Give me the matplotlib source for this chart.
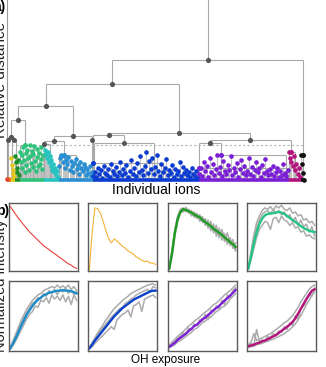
import numpy as np
import matplotlib
matplotlib.use("Agg")
import matplotlib.pyplot as plt

plt.rcParams['font.family'] = ['Liberation Sans', 'DejaVu Sans']

W, H = 326, 367

# ---------------- (a) dendrogram data ----------------
cluster_names = ['red', 'orange', 'yellow', 'dkgreen', 'green', 'teal',
                 'ltblue', 'blue', 'purple', 'magenta', 'black']
cluster_sizes = [2, 2, 4, 5, 24, 15, 34, 106, 90, 12, 4]
cluster_colors = ['#e8412f', '#f07a1a', '#e2c81e', '#1f8f2a', '#2fc27a', '#27c3c0',
                  '#2a8fd2', '#0b3ccf', '#7a1fd6', '#b3137d', '#111111']

# heights of the leaf-level nodes of every cluster (relative distance units)
red_h = [1]
orange_h = [1]
yellow_h = [22, 15, 10, 6, 3]
dkgreen_h = [24, 18, 12, 8, 20, 5]
green_h = [28, 18, 25, 12, 33, 20, 8, 27, 15, 30, 22, 10, 35, 24, 17, 29, 13, 26,
           34, 19, 9, 31, 23, 14, 27, 16, 33, 21, 11, 25]
teal_h = [36, 30, 26, 22, 28, 18, 24, 14, 20, 10, 16, 8, 12, 5, 9, 3]
ltblue_h = [14, 22, 25, 18, 24, 12, 20, 16, 23, 10, 19, 14, 8, 17, 21, 11, 15, 6,
            18, 12, 9, 16, 13, 5, 11, 7, 14, 4, 8]
blue_h = [4, 8, 3, 12, 6, 10, 2, 14, 7, 5, 11, 3, 16, 9, 6, 13, 4, 8, 18, 5, 11, 7,
          15, 3, 9, 20, 6, 12, 4, 17, 8, 24, 10, 5, 14, 28, 7, 19, 11, 22, 6, 13, 25,
          9, 4, 16, 8, 12, 21, 5, 10, 7, 15, 3, 11, 6, 9, 18, 4, 13, 7, 10, 5, 8, 3,
          12, 6, 4, 9, 2]
purple_h = [6, 12, 4, 18, 9, 14, 3, 22, 8, 16, 5, 11, 25, 7, 13, 4, 19, 9, 6, 15, 10,
            24, 5, 12, 8, 17, 3, 11, 20, 7, 14, 5, 9, 22, 6, 13, 4, 10, 18, 8, 12, 3,
            15, 7, 21, 9, 5, 11, 6, 14, 4, 8, 12, 3, 9, 5, 16, 7, 4, 10]
magenta_h = [28, 22, 18, 14, 24, 10, 16, 6, 12, 3]
black_h = [25, 16, 7, 0.5]
cluster_heights = [red_h, orange_h, yellow_h, dkgreen_h, green_h, teal_h,
                   ltblue_h, blue_h, purple_h, magenta_h, black_h]

# cluster top nodes: cluster, leaf offset, height, bar extent left/right
anchors = {
    'a_red': ('red', 1.5, 40, 0, 0),
    'a_yel': ('yellow', 3.5, 40, 2, 2),
    'a_grn': ('green', 5.5, 35, 5, 8),
    'a_teal': ('teal', 0.5, 36, 0, 6),
    'a_lb': ('ltblue', 5.5, 25, 5, 12),
    'a_lb2': ('ltblue', 33.5, 40, 0, 0),
    'a_bl1': ('blue', 0.5, 17, 0, 70),
    'a_bl2': ('blue', 31.5, 37, 30, 30),
    'a_pu1': ('purple', 0.5, 12, 0, 88),
    'a_pu2': ('purple', 22.2, 25, 0, 65),
    'a_mag': ('magenta', 2.2, 28, 2, 4),
    'a_blk': ('black', 2.2, 25, 0, 0),
}
# merges: name, left, right, height
merges = [
    ('F', 'a_red', 'a_yel', 43),
    ('D', 'F', 'a_grn', 60),
    ('E1', 'a_teal', 'a_lb', 39),
    ('E', 'E1', 'a_lb2', 44),
    ('B', 'D', 'E', 74),
    ('C1', 'a_bl1', 'a_bl2', 45),
    ('C2a', 'a_pu1', 'a_pu2', 37),
    ('C2', 'C2a', 'a_mag', 40),
    ('C', 'C1', 'C2', 47),
    ('A', 'B', 'C', 96),
    ('R', 'A', 'a_blk', 120),
]
cut_height = 35.5

# ---------------- (b) intensity profiles ----------------
x = np.linspace(0, 1, 25)
red_mean = [0.94, 0.88, 0.82, 0.76, 0.71, 0.66, 0.61, 0.56, 0.52, 0.48, 0.44, 0.40, 0.36,
            0.33, 0.30, 0.27, 0.24, 0.21, 0.18, 0.15, 0.12, 0.09, 0.07, 0.04, 0.02]
orange_mean = [0.0, 0.55, 0.92, 0.91, 0.84, 0.72, 0.58, 0.46, 0.40, 0.46, 0.43, 0.39, 0.35,
               0.32, 0.28, 0.26, 0.23, 0.19, 0.17, 0.14, 0.12, 0.13, 0.10, 0.10, 0.08]
green_mean = [0.02, 0.25, 0.55, 0.75, 0.86, 0.90, 0.89, 0.87, 0.85, 0.82, 0.80, 0.78, 0.74,
              0.71, 0.68, 0.65, 0.61, 0.58, 0.55, 0.52, 0.48, 0.45, 0.41, 0.38, 0.34]
green_gray = [
    [0.03, 0.30, 0.60, 0.80, 0.90, 0.92, 0.86, 0.90, 0.80, 0.85, 0.76, 0.82, 0.70, 0.76,
     0.62, 0.72, 0.55, 0.66, 0.50, 0.60, 0.42, 0.55, 0.36, 0.45, 0.30],
    [0.02, 0.20, 0.50, 0.72, 0.84, 0.88, 0.93, 0.84, 0.88, 0.78, 0.84, 0.72, 0.79, 0.66,
     0.74, 0.58, 0.68, 0.50, 0.62, 0.44, 0.54, 0.38, 0.48, 0.32, 0.40],
    [0.02, 0.28, 0.58, 0.78, 0.88, 0.86, 0.90, 0.88, 0.83, 0.86, 0.77, 0.80, 0.76, 0.68,
     0.70, 0.62, 0.64, 0.60, 0.48, 0.58, 0.50, 0.40, 0.44, 0.36, 0.28],
]
mint_mean = [0.02, 0.20, 0.40, 0.56, 0.68, 0.76, 0.81, 0.83, 0.84, 0.84, 0.85, 0.86, 0.85,
             0.83, 0.80, 0.77, 0.74, 0.71, 0.68, 0.65, 0.62, 0.60, 0.58, 0.57, 0.56]
mint_gray = [
    [0.03, 0.28, 0.52, 0.70, 0.80, 0.88, 0.92, 0.90, 0.94, 0.88, 0.95, 0.92, 0.96, 0.90,
     0.88, 0.92, 0.84, 0.86, 0.80, 0.82, 0.74, 0.76, 0.70, 0.72, 0.66],
    [0.02, 0.15, 0.32, 0.48, 0.60, 0.66, 0.72, 0.70, 0.60, 0.76, 0.78, 0.70, 0.80, 0.74,
     0.72, 0.66, 0.70, 0.62, 0.64, 0.56, 0.58, 0.50, 0.52, 0.48, 0.46],
    [0.02, 0.22, 0.44, 0.62, 0.74, 0.82, 0.86, 0.88, 0.82, 0.90, 0.84, 0.88, 0.82, 0.86,
     0.78, 0.82, 0.72, 0.78, 0.66, 0.74, 0.64, 0.68, 0.56, 0.64, 0.50],
]
ltblue_mean = [0.03, 0.10, 0.18, 0.27, 0.36, 0.44, 0.52, 0.58, 0.64, 0.69, 0.73, 0.76, 0.79,
               0.81, 0.83, 0.84, 0.85, 0.86, 0.86, 0.87, 0.86, 0.86, 0.85, 0.84, 0.82]
ltblue_gray = [
    [0.04, 0.14, 0.24, 0.34, 0.44, 0.52, 0.60, 0.66, 0.72, 0.76, 0.80, 0.82, 0.86, 0.88,
     0.90, 0.92, 0.90, 0.94, 0.90, 0.93, 0.90, 0.94, 0.88, 0.92, 0.86],
    [0.02, 0.07, 0.14, 0.22, 0.30, 0.38, 0.46, 0.52, 0.56, 0.64, 0.62, 0.72, 0.70, 0.76,
     0.68, 0.80, 0.74, 0.78, 0.72, 0.80, 0.70, 0.78, 0.66, 0.80, 0.72],
    [0.03, 0.12, 0.20, 0.30, 0.40, 0.48, 0.55, 0.62, 0.68, 0.70, 0.76, 0.74, 0.82, 0.78,
     0.86, 0.82, 0.88, 0.80, 0.88, 0.84, 0.90, 0.82, 0.88, 0.80, 0.84],
]
blue_mean = [0.03, 0.08, 0.14, 0.19, 0.24, 0.29, 0.34, 0.39, 0.44, 0.49, 0.53, 0.57, 0.61,
             0.64, 0.67, 0.70, 0.73, 0.75, 0.77, 0.79, 0.81, 0.83, 0.85, 0.86, 0.86]
blue_gray = [
    [0.04, 0.11, 0.18, 0.25, 0.31, 0.37, 0.44, 0.49, 0.55, 0.60, 0.64, 0.68, 0.72, 0.75,
     0.78, 0.82, 0.84, 0.86, 0.88, 0.90, 0.92, 0.94, 0.95, 0.96, 0.94],
    [0.02, 0.05, 0.10, 0.14, 0.18, 0.22, 0.26, 0.30, 0.34, 0.30, 0.44, 0.48, 0.52, 0.54,
     0.58, 0.48, 0.64, 0.66, 0.70, 0.56, 0.74, 0.76, 0.78, 0.80, 0.76],
    [0.03, 0.09, 0.15, 0.22, 0.28, 0.33, 0.38, 0.43, 0.48, 0.52, 0.56, 0.60, 0.62, 0.68,
     0.70, 0.74, 0.76, 0.80, 0.82, 0.84, 0.86, 0.88, 0.84, 0.92, 0.90],
]
purple_mean = [0.05, 0.08, 0.11, 0.15, 0.18, 0.21, 0.24, 0.28, 0.31, 0.35, 0.37, 0.41, 0.45,
               0.47, 0.51, 0.54, 0.58, 0.61, 0.64, 0.68, 0.72, 0.75, 0.79, 0.83, 0.87]
purple_gray = [
    [0.07, 0.12, 0.16, 0.20, 0.24, 0.27, 0.31, 0.35, 0.38, 0.42, 0.45, 0.48, 0.52, 0.55,
     0.58, 0.62, 0.66, 0.68, 0.72, 0.76, 0.80, 0.83, 0.86, 0.90, 0.94],
    [0.04, 0.06, 0.08, 0.12, 0.14, 0.17, 0.20, 0.23, 0.26, 0.30, 0.32, 0.36, 0.40, 0.42,
     0.46, 0.48, 0.52, 0.56, 0.58, 0.62, 0.64, 0.68, 0.74, 0.78, 0.82],
    [0.05, 0.10, 0.12, 0.18, 0.20, 0.25, 0.24, 0.32, 0.30, 0.38, 0.36, 0.44, 0.42, 0.52,
     0.44, 0.58, 0.56, 0.64, 0.60, 0.72, 0.66, 0.80, 0.76, 0.86, 0.90],
]
magenta_mean = [0.06, 0.07, 0.08, 0.10, 0.11, 0.13, 0.14, 0.16, 0.18, 0.20, 0.22, 0.25, 0.28,
                0.31, 0.34, 0.37, 0.41, 0.46, 0.53, 0.60, 0.67, 0.74, 0.80, 0.86, 0.88]
magenta_gray = [
    [0.08, 0.12, 0.24, 0.14, 0.16, 0.18, 0.20, 0.22, 0.24, 0.27, 0.30, 0.33, 0.36, 0.40,
     0.42, 0.46, 0.50, 0.56, 0.62, 0.70, 0.76, 0.82, 0.88, 0.92, 0.94],
    [0.04, 0.05, 0.06, 0.08, 0.09, 0.10, 0.12, 0.13, 0.15, 0.16, 0.18, 0.20, 0.22, 0.24,
     0.27, 0.30, 0.34, 0.38, 0.44, 0.50, 0.58, 0.66, 0.72, 0.80, 0.84],
    [0.06, 0.10, 0.08, 0.30, 0.12, 0.15, 0.14, 0.20, 0.18, 0.24, 0.22, 0.28, 0.26, 0.34,
     0.30, 0.40, 0.36, 0.50, 0.44, 0.60, 0.64, 0.72, 0.82, 0.78, 0.90],
]

panels = [
    (red_mean, [], '#e8413c', 0.8),
    (orange_mean, [], '#f3b234', 0.8),
    (green_mean, green_gray, '#1f9a22', 1.7),
    (mint_mean, mint_gray, '#25c486', 1.7),
    (ltblue_mean, ltblue_gray, '#1c8dc8', 1.7),
    (blue_mean, blue_gray, '#0a3fc8', 1.7),
    (purple_mean, purple_gray, '#7d1fd6', 1.7),
    (magenta_mean, magenta_gray, '#b3127d', 1.7),
]

# ---------------- figure ----------------
fig = plt.figure(figsize=(W / 100, H / 100), dpi=100)

ax = fig.add_axes([0, 1 - 190 / H, 1, 190 / H])
ax.set_xlim(-6.5, W - 6.5)
ax.set_ylim(-10, 180)
for s in ['top', 'right', 'bottom']:
    ax.spines[s].set_visible(False)
ax.spines['left'].set_position(('data', 0.8))
ax.spines['left'].set_bounds(0, 180)
ax.spines['left'].set_color('#9a9a9a')
ax.spines['left'].set_linewidth(0.8)
ax.set_xticks([])
ax.set_yticks([])
ax.patch.set_alpha(0)

line_c = '#a9a9a9'
node_c = '#555555'

starts = np.concatenate([[0], np.cumsum(cluster_sizes)[:-1]])
cstart = dict(zip(cluster_names, starts))
csize = dict(zip(cluster_names, cluster_sizes))
ccolor = dict(zip(cluster_names, cluster_colors))

# leaf-level points of each cluster
for name, hs in zip(cluster_names, cluster_heights):
    n = len(hs)
    xs = np.linspace(cstart[name] + 0.5, cstart[name] + csize[name] - 0.5, n)
    ax.vlines(xs, 0, hs, color=line_c, lw=0.5, zorder=1)
    ax.scatter(xs, hs, s=11, color=ccolor[name], lw=0, zorder=3)

pos = {}
hgt = {}
for key, (cl, off, h, wl, wr) in anchors.items():
    xa = cstart[cl] + off
    pos[key] = xa
    hgt[key] = h
    if wl + wr > 0:
        ax.hlines(h, xa - wl, xa + wr, color=line_c, lw=0.8, zorder=2)
        ax.vlines([xa - wl, xa + wr], 0, h, color=line_c, lw=0.8, zorder=2)
    else:
        ax.vlines(xa, 0, h, color=line_c, lw=0.8, zorder=2)
    dot_c = node_c if h > cut_height else ccolor[cl]
    ax.scatter([xa], [h], s=13, color=dot_c, lw=0, zorder=4)

for name, left, right, h in merges:
    xl, xr = pos[left], pos[right]
    pos[name] = (xl + xr) / 2
    hgt[name] = h
    ax.hlines(h, xl, xr, color=line_c, lw=0.8, zorder=2)
    ax.vlines([xl, xr], [hgt[left], hgt[right]], h, color=line_c, lw=0.8, zorder=2)
    ax.scatter([pos[name]], [h], s=14, color=node_c, lw=0, zorder=4)

root = merges[-1][0]
ax.vlines(pos[root], hgt[root], 182, color=line_c, lw=0.8, zorder=2)

total = sum(cluster_sizes)
ax.hlines(cut_height, 0.5, total + 0.5, color='#b5b5b5', lw=0.8,
          linestyles=(0, (2, 2)), zorder=2)

for name in cluster_names:
    ax.hlines(0, cstart[name], cstart[name] + csize[name], color=ccolor[name],
              lw=2.6, zorder=5)

fig.text(156 / W, 1 - 194 / H, 'Individual ions', ha='center', va='baseline', fontsize=10)
fig.text(0.6 / W, 1 - 80 / H, 'Relative distance', rotation=90, ha='center',
         va='center', fontsize=11, color='#222222')
fig.text(-6 / W, 1 - 11 / H, 'a)', fontsize=10, fontweight='bold', ha='left', va='baseline')

# ---------------- panel b ----------------
col_left = [9, 88, 168, 247]
row_top = [202.5, 281]
row_h = [68, 70]
box_w = 69
for i, (mean, grays, color, lw) in enumerate(panels):
    r, c = divmod(i, 4)
    bx = fig.add_axes([col_left[c] / W, 1 - (row_top[r] + row_h[r]) / H,
                       box_w / W, row_h[r] / H])
    for g in grays:
        bx.plot(x, g, color='#ababab', lw=1.1, zorder=1)
    bx.plot(x, mean, color=color, lw=lw, zorder=2)
    bx.set_xlim(-0.02, 1.02)
    bx.set_ylim(-0.01, 1.0)
    bx.set_xticks([])
    bx.set_yticks([])
    for s in bx.spines.values():
        s.set_color('#5a5a5a')
        s.set_linewidth(1.0)

fig.text(166 / W, 1 - 363.5 / H, 'OH exposure', ha='center', va='baseline', fontsize=8.5)
fig.text(0.6 / W, 1 - 286 / H, 'Normalized intensity', rotation=90, ha='center',
         va='center', fontsize=10.5, color='#222222')
fig.text(-4 / W, 1 - 215 / H, 'b)', fontsize=10, fontweight='bold', ha='left', va='baseline')

fig.savefig('out.png', dpi=100)
